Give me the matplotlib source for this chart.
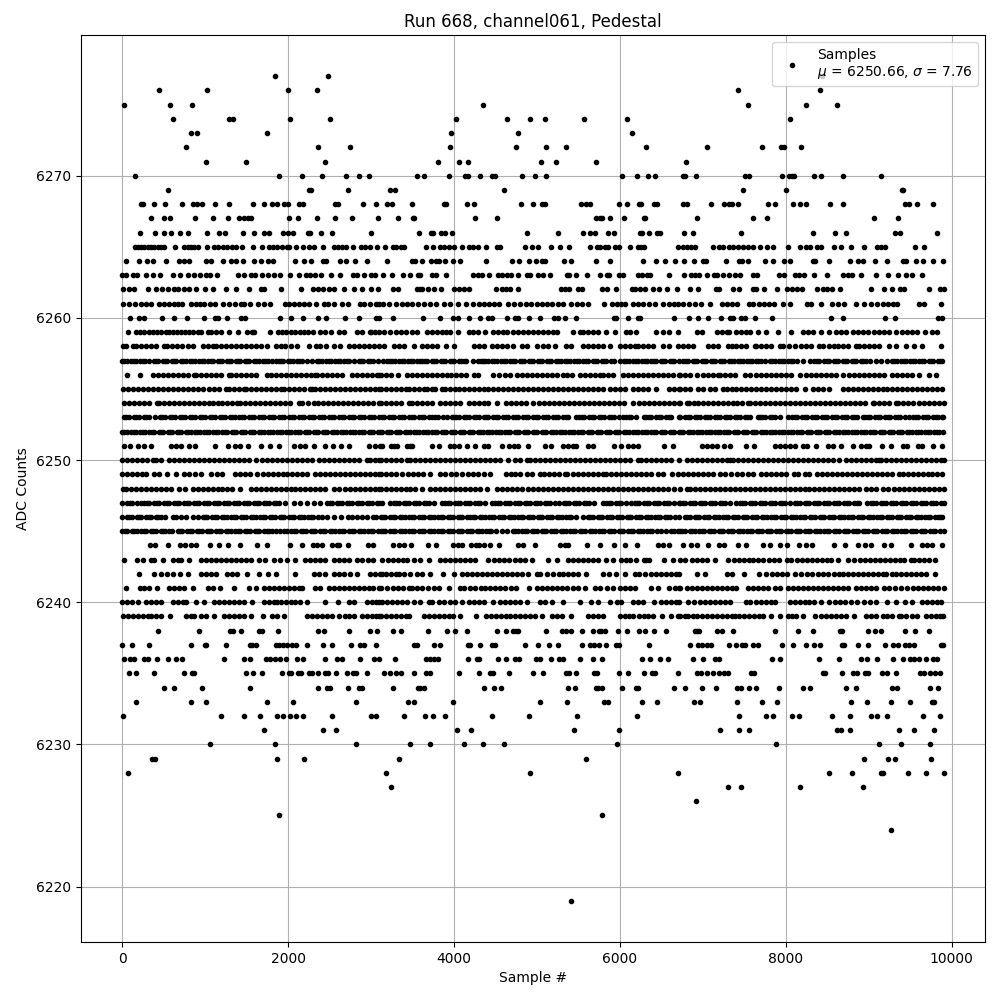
import matplotlib
matplotlib.use("Agg")
import matplotlib.pyplot as plt

# Sample numbers, one list per ADC level.
lvl_6219 = [5406]
lvl_6224 = [9267]
lvl_6225 = [1893, 5790]
lvl_6226 = [6921]
lvl_6227 = [3240, 7306, 7463, 8173, 8931]
lvl_6228 = [76, 3180, 4912, 6705, 8521, 8798, 9147, 9171, 9472, 9689, 9905]
lvl_6229 = [365, 401, 1869, 2194, 3337, 5586, 8943, 9231, 9315, 9748]
lvl_6230 = [1063, 1845, 2819, 3469, 3709, 4118, 4347, 4600, 5959, 7884, 9123, 9388, 9736]
lvl_6231 = [1712, 2422, 2579, 4034, 4203, 5442, 5983, 7210, 7439, 7559, 8618, 8666, 8774, 9364, 9544, 9785]
lvl_6232 = [16, 1195, 1472, 1665, 1869, 1941, 2025, 2097, 2182, 2531, 3000, 3060, 3397, 3649, 3746, 3890, 4455, 4900, 5478, 6200, 7439, 7763, 7848, 8076, 8161, 8558, 8774, 9027, 9099, 9219, 9653, 9857]
lvl_6233 = [173, 834, 1015, 1749, 2061, 2819, 3445, 3517, 3986, 5033, 5358, 5803, 5851, 6272, 6452, 6897, 6970, 7415, 7715, 7896, 8786, 8978, 9267, 9496, 9761, 9785]
lvl_6234 = [510, 630, 967, 1544, 2362, 2470, 2506, 2723, 2855, 2891, 3264, 3565, 3589, 3637, 4359, 4479, 4563, 5370, 5454, 5706, 5730, 5790, 6031, 6188, 6212, 6657, 6789, 6994, 7162, 7415, 7463, 7559, 7643, 7920, 8209, 8293, 8726, 8846, 9279, 9340, 9736, 9833]
lvl_6235 = [88, 173, 389, 750, 846, 870, 1496, 1580, 1688, 1929, 2013, 2037, 2122, 2158, 2254, 2290, 2362, 2446, 2483, 2579, 2711, 2783, 2819, 2951, 3156, 3228, 3300, 3361, 3517, 3661, 3709, 4058, 4299, 4431, 4467, 4660, 4949, 5069, 5346, 5382, 5466, 5682, 5718, 5995, 6103, 6296, 6392, 6428, 6705, 6933, 6982, 7054, 7126, 7198, 7258, 7306, 7583, 7619, 8449, 8473, 8678, 8810, 8858, 8954, 8991, 9159, 9219, 9327, 9616, 9664, 9736, 9797, 9857]
lvl_6236 = [28, 100, 149, 269, 317, 425, 558, 654, 726, 1231, 1472, 1544, 1737, 1785, 1845, 1905, 1977, 2110, 2182, 2446, 2591, 2651, 2868, 3036, 3096, 3288, 3661, 3709, 3758, 3806, 4167, 4275, 4299, 4527, 4624, 4732, 4780, 4985, 5033, 5165, 5261, 5310, 5514, 5670, 5790, 6272, 6368, 6488, 6585, 6885, 7006, 7150, 7198, 7836, 7932, 8401, 8642, 8906, 8978, 9099, 9292, 9412, 9496, 9544, 9604, 9689, 9773, 9821]
lvl_6237 = [4, 125, 329, 834, 1003, 1015, 1255, 1544, 1568, 1616, 1857, 1893, 1941, 1989, 2049, 2097, 2230, 2422, 2531, 2759, 2867, 2915, 3060, 3517, 3553, 3758, 3830, 4167, 4191, 4311, 4455, 4491, 4852, 5009, 5141, 5249, 5538, 5634, 5682, 5742, 5827, 5947, 5995, 6356, 6849, 6945, 6993, 7054, 7102, 7318, 7403, 7475, 7511, 7607, 7667, 7956, 8088, 8245, 8341, 8413, 8678, 8702, 8870, 8991, 9195, 9292, 9352, 9436, 9484, 9544, 9869, 9893]
lvl_6238 = [437, 931, 1303, 1340, 1436, 1652, 1688, 1881, 2362, 2434, 2735, 2988, 3072, 3264, 3361, 3685, 3914, 4010, 4155, 4515, 4624, 4708, 4744, 4768, 5105, 5298, 5346, 5406, 5538, 5670, 5742, 5778, 5815, 5971, 6091, 6235, 6307, 6416, 6560, 6909, 6933, 6958, 7174, 7234, 7367, 7872, 8148, 8329, 8654, 8678, 8991, 9075, 9147, 9436, 9556, 9725]
lvl_6239 = [10, 70, 130, 190, 250, 310, 347, 410, 470, 580, 770, 830, 870, 950, 1010, 1110, 1230, 1290, 1350, 1410, 1470, 1550, 1700, 1810, 1870, 1950, 2230, 2290, 2350, 2410, 2470, 2530, 2610, 2690, 2740, 2790, 2890, 2950, 3010, 3060, 3100, 3116, 3180, 3240, 3300, 3360, 3420, 3456, 3636, 3700, 3760, 3820, 3880, 3940, 3988, 4076, 4264, 4388, 4450, 4510, 4570, 4630, 4676, 4736, 4800, 4860, 4920, 4980, 5056, 5176, 5240, 5296, 5416, 5616, 5680, 5740, 5796, 5996, 6060, 6110, 6156, 6236, 6290, 6336, 6404, 6508, 6616, 6696, 6725, 6785, 6825, 6880, 6925, 6985, 7045, 7105, 7165, 7225, 7285, 7345, 7385, 7437, 7500, 7560, 7620, 7680, 7725, 7825, 7933, 8025, 8080, 8125, 8205, 8357, 8420, 8480, 8540, 8600, 8660, 8725, 8825, 8965, 9025, 9085, 9165, 9225, 9285, 9365, 9385, 9450, 9520, 9585, 9685, 9745, 9805, 9860, 9900]
lvl_6240 = [0, 60, 120, 195, 290, 350, 410, 470, 610, 670, 730, 770, 890, 990, 1110, 1170, 1230, 1290, 1350, 1410, 1470, 1570, 1710, 1770, 1830, 1870, 1910, 1970, 2030, 2090, 2150, 2230, 2450, 2600, 2730, 2790, 2950, 3010, 3060, 3100, 3136, 3196, 3256, 3316, 3376, 3436, 3516, 3596, 3696, 3736, 3816, 3880, 3956, 4016, 4096, 4176, 4240, 4300, 4356, 4476, 4556, 4620, 4680, 4740, 4800, 4876, 5036, 5096, 5176, 5316, 5516, 5656, 5736, 5876, 5964, 6016, 6156, 6216, 6276, 6416, 6496, 6560, 6620, 6680, 6716, 6825, 6890, 6965, 7025, 7085, 7145, 7205, 7265, 7325, 7525, 7565, 7637, 7700, 7760, 7820, 7865, 8045, 8105, 8165, 8225, 8285, 8345, 8425, 8525, 8590, 8650, 8710, 8785, 8857, 8945, 9010, 9085, 9225, 9325, 9437, 9525, 9637, 9700, 9760, 9820, 9865]
lvl_6241 = [48, 210, 270, 330, 425, 570, 630, 690, 750, 860, 1030, 1100, 1180, 1350, 1530, 1610, 1710, 1770, 1830, 1890, 1950, 2010, 2070, 2130, 2170, 2330, 2390, 2490, 2550, 2610, 2670, 2730, 2790, 2850, 2910, 2970, 3030, 3100, 3116, 3196, 3260, 3320, 3380, 3456, 3496, 3560, 3620, 3690, 3756, 3816, 3936, 4076, 4116, 4196, 4256, 4320, 4380, 4436, 4496, 4560, 4620, 4690, 4748, 4908, 4996, 5060, 5120, 5180, 5240, 5300, 5360, 5430, 5496, 5576, 5696, 5760, 5840, 5916, 5996, 6060, 6120, 6176, 6376, 6456, 6596, 6660, 6716, 6725, 6805, 6865, 6930, 6990, 7050, 7110, 7170, 7230, 7290, 7350, 7405, 7545, 7610, 7665, 7725, 7790, 7865, 7933, 8025, 8090, 8150, 8210, 8270, 8330, 8390, 8450, 8510, 8570, 8630, 8690, 8745, 8845, 8910, 8970, 9030, 9090, 9185, 9245, 9310, 9385, 9465, 9530, 9590, 9650, 9710, 9770, 9830, 9905]
lvl_6242 = [200, 390, 470, 540, 610, 700, 795, 950, 1010, 1075, 1130, 1270, 1330, 1390, 1510, 1650, 1760, 1860, 2090, 2310, 2370, 2450, 2550, 2610, 2680, 2750, 2830, 2990, 3050, 3110, 3136, 3176, 3236, 3296, 3336, 3396, 3476, 3556, 3616, 3716, 3864, 3996, 4096, 4160, 4220, 4280, 4340, 4400, 4460, 4520, 4580, 4640, 4700, 4756, 4816, 4896, 4996, 5036, 5116, 5196, 5260, 5320, 5380, 5440, 5500, 5596, 5796, 5870, 5948, 6056, 6176, 6236, 6300, 6376, 6436, 6500, 6560, 6620, 6680, 6716, 6933, 7025, 7285, 7345, 7497, 7677, 7765, 7830, 7890, 7950, 8010, 8105, 8185, 8250, 8320, 8385, 8445, 8510, 8580, 8645, 8685, 8750, 8810, 8870, 8930, 8990, 9050, 9110, 9165, 9205, 9285, 9325, 9390, 9450, 9510, 9570, 9630, 9685, 9797]
lvl_6243 = [20, 180, 250, 350, 385, 495, 610, 670, 710, 810, 950, 1010, 1070, 1130, 1190, 1250, 1310, 1367, 1430, 1490, 1550, 1650, 1720, 1830, 1900, 1990, 2080, 2210, 2270, 2330, 2390, 2450, 2550, 2610, 2670, 2730, 2830, 2890, 2960, 3030, 3136, 3200, 3260, 3320, 3380, 3428, 3516, 3596, 3696, 3828, 3890, 3950, 4010, 4070, 4130, 4190, 4256, 4416, 4480, 4540, 4600, 4660, 4736, 4796, 4860, 4936, 5136, 5236, 5376, 5440, 5500, 5560, 5620, 5680, 5736, 5836, 5916, 6016, 6070, 6116, 6188, 6296, 6316, 6356, 6536, 6636, 6725, 6790, 6865, 6933, 6995, 7055, 7145, 7305, 7370, 7430, 7490, 7550, 7610, 7670, 7730, 7797, 7857, 7917, 8013, 8065, 8130, 8190, 8250, 8310, 8370, 8430, 8490, 8550, 8625, 8745, 8825, 8890, 8950, 9010, 9070, 9130, 9190, 9250, 9310, 9370, 9430, 9505, 9545, 9610, 9670, 9725, 9797]
lvl_6244 = [340, 395, 555, 700, 760, 830, 890, 1063, 1170, 1275, 1420, 1630, 1745, 2025, 2170, 2300, 2350, 2415, 2530, 2590, 2610, 2725, 2968, 3030, 3264, 3336, 3396, 3480, 3684, 3780, 3988, 4044, 4096, 4204, 4260, 4296, 4356, 4440, 4548, 4776, 4836, 4980, 5276, 5336, 5376, 5604, 5760, 5928, 6060, 6204, 6456, 6516, 6588, 6765, 6861, 6933, 7065, 7197, 7257, 7425, 7525, 7725, 7805, 7933, 8013, 8157, 8245, 8313, 8577, 8709, 8865, 8957, 9021, 9177, 9273, 9513, 9645, 9705, 9765, 9885]
lvl_6245 = [0, 58, 116, 174, 232, 290, 348, 406, 464, 522, 570, 600, 670, 728, 786, 844, 902, 960, 1018, 1076, 1134, 1192, 1250, 1308, 1366, 1424, 1482, 1540, 1598, 1656, 1714, 1772, 1810, 1850, 1900, 1950, 1990, 2040, 2098, 2156, 2214, 2272, 2330, 2388, 2446, 2504, 2562, 2620, 2678, 2736, 2794, 2852, 2910, 2968, 3026, 3084, 3116, 3174, 3232, 3290, 3348, 3406, 3464, 3522, 3580, 3638, 3696, 3754, 3812, 3870, 3928, 3986, 4044, 4102, 4160, 4218, 4276, 4334, 4392, 4450, 4508, 4576, 4644, 4708, 4766, 4824, 4882, 4940, 4998, 5056, 5114, 5172, 5230, 5288, 5346, 5404, 5462, 5520, 5578, 5636, 5694, 5752, 5810, 5868, 5926, 5984, 6042, 6100, 6158, 6216, 6274, 6332, 6390, 6448, 6496, 6556, 6614, 6656, 6696, 6725, 6783, 6841, 6899, 6957, 7015, 7073, 7131, 7189, 7247, 7305, 7363, 7421, 7479, 7537, 7595, 7653, 7711, 7769, 7827, 7885, 7943, 8001, 8059, 8117, 8175, 8233, 8291, 8349, 8407, 8465, 8523, 8581, 8639, 8697, 8755, 8813, 8871, 8929, 8987, 9045, 9103, 9161, 9219, 9277, 9335, 9393, 9451, 9509, 9567, 9625, 9683, 9741, 9799, 9857, 9905, 30, 146, 262, 378, 494, 700, 815, 930, 1048, 1163, 1279, 1395, 1511, 1627, 1743, 2070, 2185, 2301, 2417, 2533, 2649, 2765, 2881, 2997, 3145, 3261, 3377, 3493, 3609, 3725, 3841, 3957, 4073, 4189, 4305, 4421, 4737, 4853, 4969, 5085, 5201, 5317, 5433, 5549, 5665, 5781, 5897, 6013, 6129, 6245, 6361, 6754, 6870, 6986, 7102, 7218, 7334, 7450, 7566, 7682, 7798, 7914, 8030, 8146, 8262, 8378, 8494, 8610, 8726, 8842, 8958, 9074, 9190, 9306, 9422, 9538, 9654, 9770]
lvl_6246 = [0, 58, 116, 174, 232, 290, 348, 406, 464, 522, 610, 650, 710, 770, 850, 915, 970, 1028, 1086, 1144, 1202, 1260, 1318, 1376, 1434, 1492, 1550, 1608, 1666, 1724, 1782, 1840, 1898, 1956, 2014, 2072, 2130, 2188, 2246, 2304, 2362, 2410, 2470, 2555, 2635, 2725, 2765, 2830, 2890, 2950, 3025, 3065, 3116, 3174, 3232, 3290, 3348, 3406, 3464, 3522, 3580, 3638, 3696, 3754, 3812, 3870, 3928, 3986, 4044, 4102, 4156, 4196, 4254, 4312, 4370, 4428, 4486, 4544, 4602, 4660, 4718, 4776, 4834, 4892, 4950, 5008, 5066, 5124, 5182, 5240, 5298, 5356, 5414, 5472, 5556, 5616, 5674, 5732, 5790, 5848, 5906, 5964, 6022, 6080, 6138, 6196, 6254, 6312, 6370, 6428, 6486, 6544, 6602, 6660, 6716, 6783, 6841, 6899, 6957, 7015, 7073, 7131, 7189, 7247, 7305, 7363, 7421, 7479, 7537, 7595, 7653, 7711, 7769, 7827, 7885, 7943, 8001, 8059, 8117, 8175, 8233, 8291, 8349, 8407, 8465, 8523, 8581, 8639, 8697, 8755, 8813, 8871, 8929, 8987, 9045, 9103, 9161, 9219, 9277, 9335, 9393, 9451, 9509, 9567, 9625, 9683, 9741, 9799, 9857, 9885, 87, 203, 319, 435, 1000, 1115, 1231, 1347, 1463, 1579, 1695, 1811, 1927, 2043, 2159, 2275, 3145, 3261, 3377, 3493, 3609, 3725, 3841, 3957, 4073, 4225, 4341, 4457, 4573, 4689, 4805, 4921, 5037, 5153, 5269, 5385, 5645, 5761, 5877, 5993, 6109, 6225, 6341, 6457, 6573, 6812, 6928, 7044, 7160, 7276, 7392, 7508, 7624, 7740, 7856, 7972, 8088, 8204, 8320, 8436, 8552, 8668, 8784, 8900, 9016, 9132, 9248, 9364, 9480, 9596, 9712, 9828]
lvl_6247 = [0, 60, 120, 180, 230, 270, 330, 390, 450, 510, 570, 630, 690, 750, 810, 870, 930, 990, 1050, 1110, 1170, 1230, 1290, 1350, 1410, 1470, 1530, 1590, 1650, 1710, 1770, 1830, 1890, 1960, 2070, 2150, 2230, 2310, 2390, 2470, 2530, 2590, 2650, 2710, 2770, 2830, 2890, 2950, 3010, 3070, 3100, 3136, 3228, 3276, 3336, 3396, 3456, 3516, 3576, 3636, 3696, 3756, 3856, 3896, 3956, 4016, 4076, 4136, 4196, 4256, 4316, 4376, 4456, 4496, 4556, 4616, 4676, 4736, 4796, 4856, 4916, 4976, 5036, 5096, 5156, 5216, 5264, 5324, 5384, 5444, 5504, 5564, 5624, 5684, 5796, 5836, 5896, 5956, 6016, 6076, 6136, 6176, 6236, 6296, 6356, 6416, 6476, 6536, 6596, 6656, 6716, 6725, 6785, 6845, 6905, 6965, 7025, 7085, 7145, 7205, 7265, 7325, 7405, 7445, 7505, 7565, 7625, 7685, 7745, 7805, 7865, 7925, 7985, 8053, 8105, 8165, 8225, 8285, 8345, 8405, 8465, 8525, 8585, 8645, 8705, 8765, 8825, 8885, 8973, 9025, 9085, 9145, 9205, 9265, 9325, 9385, 9445, 9505, 9565, 9625, 9685, 9745, 9805, 9865, 9905, 90, 300, 420, 540, 660, 780, 900, 1020, 1140, 1260, 1380, 1500, 1620, 1740, 1860, 2500, 2620, 2740, 2860, 2980, 3306, 3426, 3546, 3666, 3926, 4046, 4166, 4286, 4526, 4646, 4766, 4886, 5006, 5126, 5354, 5474, 5594, 5866, 5986, 6206, 6326, 6446, 6566, 6755, 6875, 6995, 7115, 7235, 7475, 7595, 7715, 7835, 7955, 8135, 8255, 8375, 8495, 8615, 8735, 8855, 9055, 9175, 9295, 9415, 9535, 9655, 9775]
lvl_6248 = [10, 50, 110, 170, 230, 290, 350, 410, 470, 530, 590, 690, 755, 850, 910, 970, 1030, 1090, 1150, 1210, 1270, 1330, 1420, 1550, 1610, 1670, 1730, 1790, 1850, 1910, 1970, 2030, 2090, 2150, 2210, 2270, 2330, 2390, 2450, 2550, 2610, 2690, 2750, 2810, 2870, 2930, 2990, 3050, 3100, 3116, 3176, 3236, 3296, 3356, 3416, 3476, 3536, 3616, 3716, 3776, 3836, 3896, 3956, 4016, 4076, 4136, 4196, 4256, 4316, 4396, 4516, 4576, 4636, 4696, 4756, 4816, 4896, 4956, 5016, 5076, 5136, 5196, 5256, 5316, 5376, 5436, 5496, 5556, 5616, 5676, 5736, 5796, 5856, 5916, 5976, 6036, 6096, 6156, 6216, 6276, 6336, 6396, 6456, 6516, 6576, 6656, 6725, 6805, 6845, 6905, 6965, 7025, 7085, 7145, 7205, 7265, 7325, 7385, 7445, 7505, 7565, 7625, 7685, 7745, 7805, 7865, 7925, 7985, 8045, 8105, 8165, 8225, 8285, 8345, 8405, 8465, 8525, 8585, 8645, 8705, 8765, 8825, 8885, 8965, 9025, 9085, 9165, 9237, 9305, 9365, 9425, 9485, 9545, 9605, 9665, 9725, 9785, 9845, 9905]
lvl_6249 = [0, 60, 120, 180, 240, 290, 390, 450, 540, 655, 750, 810, 880, 950, 1070, 1140, 1210, 1360, 1420, 1480, 1540, 1620, 1700, 1760, 1820, 1880, 1940, 1990, 2050, 2110, 2170, 2230, 2330, 2390, 2450, 2510, 2570, 2630, 2690, 2750, 2810, 2870, 2930, 2990, 3050, 3100, 3116, 3176, 3236, 3296, 3376, 3444, 3504, 3564, 3624, 3716, 3828, 3896, 3964, 4030, 4100, 4164, 4228, 4290, 4360, 4436, 4628, 4690, 4740, 4796, 4884, 4936, 5036, 5084, 5150, 5210, 5270, 5336, 5364, 5430, 5490, 5550, 5610, 5670, 5730, 5796, 5836, 5896, 5956, 6016, 6076, 6136, 6196, 6256, 6316, 6376, 6456, 6516, 6628, 6696, 6757, 6817, 6877, 6937, 6997, 7057, 7117, 7205, 7265, 7340, 7413, 7477, 7540, 7600, 7705, 7757, 7820, 7880, 7940, 8000, 8093, 8145, 8225, 8285, 8373, 8437, 8497, 8557, 8617, 8677, 8737, 8797, 8857, 8917, 8977, 9037, 9097, 9157, 9217, 9277, 9365, 9413, 9473, 9533, 9593, 9653, 9713, 9765, 9825, 9885]
lvl_6250 = [0, 60, 120, 180, 240, 300, 370, 410, 470, 570, 630, 690, 750, 810, 870, 930, 990, 1050, 1110, 1170, 1230, 1290, 1350, 1410, 1470, 1530, 1610, 1690, 1750, 1810, 1870, 1930, 1990, 2050, 2110, 2170, 2230, 2290, 2370, 2430, 2490, 2550, 2610, 2670, 2730, 2790, 2850, 2950, 2990, 3050, 3100, 3116, 3176, 3236, 3296, 3356, 3436, 3476, 3536, 3596, 3656, 3716, 3776, 3836, 3896, 3956, 4016, 4076, 4136, 4196, 4256, 4316, 4376, 4436, 4496, 4556, 4656, 4736, 4796, 4876, 4916, 4976, 5036, 5096, 5156, 5216, 5276, 5336, 5396, 5456, 5516, 5576, 5636, 5696, 5756, 5816, 5876, 5936, 5996, 6056, 6116, 6216, 6256, 6316, 6376, 6436, 6496, 6556, 6616, 6716, 6805, 6865, 6925, 6985, 7045, 7105, 7165, 7225, 7285, 7325, 7365, 7425, 7485, 7545, 7605, 7665, 7725, 7785, 7845, 7905, 7965, 8025, 8085, 8145, 8205, 8265, 8325, 8385, 8445, 8505, 8565, 8645, 8725, 8785, 8845, 8905, 8965, 9025, 9085, 9125, 9145, 9205, 9265, 9325, 9385, 9445, 9505, 9565, 9625, 9685, 9745, 9805, 9865, 9905]
lvl_6251 = [28, 96, 189, 270, 349, 590, 650, 710, 810, 880, 1123, 1280, 1364, 1424, 1520, 1676, 1785, 1893, 2077, 2140, 2200, 2310, 2446, 2543, 2639, 2735, 2975, 3050, 3110, 3128, 3236, 3276, 3316, 3436, 3468, 3496, 3732, 3816, 3956, 4004, 4056, 4156, 4248, 4356, 4416, 4584, 4668, 4728, 4776, 4896, 5100, 5172, 5316, 5376, 5436, 5476, 5616, 5676, 5928, 6016, 6096, 6156, 6216, 6536, 6644, 6985, 7045, 7105, 7165, 7257, 7325, 7521, 7613, 7865, 7925, 7985, 8045, 8105, 8205, 8253, 8361, 8505, 8565, 8665, 8805, 8905, 8960, 9005, 9153, 9273, 9413, 9465, 9597, 9645, 9773, 9885]
lvl_6252 = [0, 55, 110, 165, 220, 275, 330, 385, 440, 495, 550, 605, 660, 715, 770, 825, 880, 935, 990, 1045, 1100, 1155, 1210, 1265, 1320, 1375, 1430, 1485, 1540, 1595, 1650, 1705, 1760, 1815, 1870, 1925, 1980, 2035, 2090, 2145, 2200, 2255, 2310, 2365, 2420, 2475, 2530, 2585, 2640, 2695, 2750, 2805, 2860, 2915, 2970, 3025, 3080, 3135, 3190, 3245, 3300, 3355, 3410, 3465, 3520, 3575, 3630, 3685, 3740, 3795, 3850, 3905, 3960, 4015, 4070, 4125, 4180, 4235, 4290, 4345, 4400, 4455, 4510, 4565, 4620, 4675, 4730, 4785, 4840, 4895, 4950, 5005, 5060, 5115, 5170, 5225, 5280, 5335, 5390, 5445, 5500, 5555, 5610, 5665, 5720, 5775, 5830, 5885, 5940, 5995, 6050, 6105, 6160, 6215, 6270, 6325, 6380, 6435, 6490, 6545, 6600, 6655, 6710, 6765, 6820, 6875, 6930, 6985, 7040, 7095, 7150, 7205, 7260, 7315, 7370, 7425, 7480, 7535, 7590, 7645, 7700, 7755, 7810, 7865, 7920, 7975, 8030, 8085, 8140, 8195, 8250, 8305, 8360, 8415, 8470, 8525, 8580, 8635, 8690, 8745, 8800, 8855, 8910, 8965, 9020, 9075, 9130, 9185, 9240, 9295, 9350, 9405, 9460, 9515, 9570, 9625, 9680, 9735, 9790, 9845, 9900, 28, 138, 248, 358, 468, 578, 688, 798, 908, 1018, 1128, 1238, 1348, 1458, 1568, 1678, 1788, 1898, 2008, 2118, 2228, 2338, 2448, 2558, 2668, 2778, 2888, 2998, 3108, 3218, 3328, 3438, 3548, 3658, 3768, 3878, 3988, 4098, 4208, 4318, 4428, 4538, 4648, 4758, 4868, 4978, 5088, 5198, 5308, 5418, 5528, 5638, 5748, 5858, 5968, 6078, 6188, 6298, 6408, 6518, 6628, 6738, 6848, 6958, 7068, 7178, 7288, 7398, 7508, 7618, 7728, 7838, 7948, 8058, 8168, 8278, 8388, 8498, 8608, 8718, 8828, 8938, 9048, 9158, 9268, 9378, 9488, 9598, 9708, 9818]
lvl_6253 = [20, 80, 140, 200, 260, 320, 395, 455, 515, 575, 635, 695, 755, 815, 875, 935, 995, 1055, 1115, 1175, 1235, 1295, 1355, 1415, 1475, 1535, 1595, 1655, 1715, 1775, 1835, 1895, 1955, 2015, 2075, 2135, 2195, 2255, 2315, 2375, 2435, 2495, 2555, 2615, 2675, 2735, 2795, 2855, 2915, 2975, 3035, 3100, 3160, 3220, 3280, 3340, 3400, 3460, 3520, 3580, 3640, 3700, 3776, 3804, 3868, 3920, 3976, 3996, 4056, 4116, 4176, 4236, 4296, 4356, 4416, 4476, 4536, 4596, 4656, 4716, 4776, 4836, 4896, 4956, 5016, 5076, 5136, 5196, 5256, 5316, 5376, 5476, 5508, 5568, 5628, 5688, 5748, 5808, 5868, 5928, 5988, 6036, 6076, 6136, 6196, 6296, 6316, 6376, 6436, 6496, 6556, 6616, 6716, 6725, 6785, 6845, 6905, 6965, 7025, 7085, 7145, 7205, 7265, 7325, 7385, 7445, 7505, 7565, 7665, 7685, 7745, 7805, 7865, 7925, 8025, 8077, 8137, 8197, 8257, 8317, 8377, 8437, 8497, 8557, 8617, 8677, 8737, 8797, 8857, 8925, 8957, 9017, 9077, 9137, 9197, 9257, 9317, 9377, 9437, 9485, 9537, 9597, 9657, 9717, 9777, 9837, 9885, 9900, 50, 170, 290, 485, 605, 725, 845, 965, 1085, 1205, 1325, 1445, 1565, 1685, 1805, 1925, 2045, 2165, 2285, 2405, 2525, 2645, 2765, 2885, 3005, 3130, 3250, 3370, 3490, 3610, 3730, 4026, 4146, 4266, 4386, 4506, 4626, 4746, 4866, 4986, 5106, 5226, 5346, 5538, 5658, 5778, 5898, 6106, 6346, 6466, 6586, 6815, 6935, 7055, 7175, 7295, 7415, 7535, 7715, 7835, 8107, 8227, 8347, 8467, 8587, 8707, 8827, 8987, 9107, 9227, 9347, 9567, 9687, 9807]
lvl_6254 = [20, 80, 140, 200, 260, 320, 420, 450, 510, 570, 630, 690, 750, 810, 870, 930, 990, 1050, 1090, 1150, 1210, 1270, 1330, 1390, 1420, 1480, 1540, 1600, 1660, 1720, 1780, 1840, 1900, 1960, 2020, 2130, 2170, 2240, 2310, 2360, 2420, 2480, 2540, 2600, 2660, 2720, 2780, 2840, 2900, 2960, 3020, 3100, 3116, 3176, 3236, 3296, 3356, 3456, 3496, 3556, 3616, 3676, 3736, 3826, 3896, 3956, 4016, 4076, 4176, 4236, 4296, 4356, 4416, 4516, 4626, 4686, 4746, 4806, 4866, 4956, 5026, 5086, 5146, 5206, 5266, 5326, 5386, 5446, 5506, 5566, 5626, 5686, 5746, 5806, 5866, 5926, 5986, 6046, 6156, 6226, 6286, 6346, 6406, 6466, 6526, 6586, 6646, 6716, 6725, 6805, 6837, 6897, 6945, 6997, 7057, 7117, 7177, 7237, 7297, 7357, 7417, 7477, 7545, 7573, 7633, 7693, 7753, 7813, 7873, 7933, 7993, 8053, 8113, 8173, 8233, 8293, 8353, 8413, 8473, 8533, 8593, 8653, 8713, 8773, 8833, 8893, 8953, 9045, 9065, 9125, 9185, 9245, 9325, 9357, 9417, 9477, 9537, 9605, 9665, 9725, 9785, 9845, 9905]
lvl_6255 = [10, 70, 130, 190, 250, 310, 370, 430, 490, 550, 610, 670, 730, 790, 850, 910, 970, 1050, 1110, 1170, 1250, 1290, 1350, 1410, 1470, 1495, 1555, 1615, 1675, 1735, 1795, 1855, 1910, 1950, 2010, 2070, 2130, 2190, 2270, 2290, 2330, 2390, 2450, 2510, 2570, 2630, 2690, 2750, 2810, 2870, 2930, 2990, 3050, 3100, 3116, 3176, 3236, 3296, 3356, 3416, 3456, 3516, 3576, 3636, 3676, 3736, 3776, 3856, 3896, 3956, 4016, 4056, 4116, 4176, 4236, 4296, 4356, 4416, 4476, 4536, 4596, 4656, 4716, 4776, 4836, 4896, 4956, 5016, 5076, 5136, 5196, 5256, 5316, 5376, 5436, 5496, 5556, 5616, 5676, 5736, 5796, 5876, 5936, 5996, 6056, 6156, 6216, 6276, 6336, 6436, 6596, 6656, 6716, 6725, 6785, 6845, 6945, 7005, 7085, 7145, 7245, 7285, 7345, 7405, 7465, 7525, 7585, 7645, 7705, 7765, 7825, 7885, 7945, 8005, 8065, 8125, 8225, 8325, 8385, 8445, 8525, 8685, 8745, 8805, 8865, 8925, 8985, 9045, 9105, 9165, 9225, 9285, 9345, 9405, 9465, 9525, 9585, 9645, 9705, 9765, 9825, 9885]
lvl_6256 = [60, 210, 367, 430, 490, 550, 610, 670, 730, 790, 867, 887, 950, 1010, 1070, 1130, 1190, 1287, 1307, 1370, 1430, 1490, 1550, 1615, 1745, 1793, 1855, 1915, 1975, 2035, 2095, 2155, 2215, 2275, 2327, 2347, 2410, 2470, 2530, 2590, 2647, 2767, 2830, 2890, 2950, 3010, 3070, 3100, 3116, 3180, 3240, 3324, 3428, 3490, 3550, 3610, 3670, 3730, 3790, 3850, 3910, 3970, 4030, 4090, 4150, 4236, 4284, 4476, 4548, 4616, 4676, 4756, 4820, 4880, 4940, 5000, 5060, 5120, 5180, 5240, 5316, 5364, 5428, 5516, 5580, 5640, 5700, 5756, 5796, 5860, 5916, 6036, 6100, 6160, 6220, 6280, 6340, 6400, 6460, 6520, 6580, 6640, 6716, 6725, 6785, 6845, 6925, 7005, 7065, 7125, 7185, 7205, 7265, 7325, 7385, 7505, 7565, 7645, 7705, 7765, 7825, 7885, 7945, 8005, 8065, 8165, 8245, 8305, 8365, 8425, 8485, 8545, 8605, 8685, 8765, 8825, 8885, 8945, 9005, 9065, 9125, 9185, 9285, 9345, 9405, 9465, 9525, 9605, 9725, 9805]
lvl_6257 = [0, 55, 110, 165, 220, 275, 330, 380, 435, 490, 545, 600, 655, 710, 765, 820, 875, 930, 985, 1040, 1095, 1150, 1205, 1260, 1315, 1370, 1425, 1480, 1535, 1590, 1645, 1700, 1755, 1810, 1850, 1890, 1945, 2000, 2055, 2110, 2165, 2225, 2290, 2350, 2405, 2460, 2515, 2570, 2625, 2680, 2735, 2790, 2850, 2905, 2960, 3020, 3090, 3140, 3190, 3230, 3285, 3340, 3395, 3450, 3505, 3560, 3590, 3620, 3675, 3730, 3785, 3840, 3895, 3950, 4005, 4060, 4115, 4150, 4230, 4290, 4325, 4350, 4405, 4460, 4515, 4570, 4625, 4680, 4735, 4790, 4845, 4900, 4955, 5010, 5065, 5120, 5175, 5230, 5285, 5340, 5395, 5450, 5505, 5560, 5615, 5670, 5725, 5780, 5835, 5890, 5925, 6000, 6050, 6105, 6160, 6215, 6270, 6325, 6380, 6435, 6490, 6545, 6600, 6655, 6710, 6765, 6820, 6875, 6930, 6985, 7040, 7095, 7150, 7205, 7260, 7315, 7370, 7425, 7480, 7535, 7590, 7640, 7695, 7750, 7810, 7865, 7920, 7975, 8030, 8085, 8140, 8205, 8290, 8345, 8400, 8465, 8520, 8575, 8630, 8685, 8740, 8795, 8850, 8905, 8960, 9015, 9085, 9145, 9225, 9280, 9335, 9390, 9445, 9500, 9555, 9610, 9665, 9720, 9775, 9830, 9885, 28, 138, 248, 408, 518, 628, 738, 848, 958, 1068, 1178, 1288, 1398, 1508, 1618, 1728, 1918, 2028, 2138, 2378, 2488, 2598, 2708, 2878, 2988, 3258, 3368, 3478, 3648, 3758, 3868, 3978, 4088, 4378, 4488, 4598, 4708, 4818, 4928, 5038, 5148, 5258, 5368, 5478, 5588, 5698, 5808, 6078, 6188, 6298, 6408, 6518, 6628, 6793, 6903, 7013, 7123, 7233, 7343, 7453, 7563, 7668, 7838, 7948, 8058, 8373, 8493, 8603, 8713, 8823, 8933, 9308, 9418, 9528, 9638, 9748, 9858]
lvl_6258 = [5, 50, 130, 170, 230, 290, 350, 410, 500, 540, 600, 660, 720, 790, 860, 970, 1040, 1090, 1130, 1190, 1250, 1310, 1370, 1430, 1490, 1550, 1610, 1670, 1750, 1850, 1910, 1960, 2040, 2110, 2250, 2340, 2390, 2460, 2550, 2630, 2740, 2800, 2860, 2920, 2980, 3040, 3100, 3156, 3276, 3336, 3396, 3516, 3616, 3676, 3736, 3796, 3906, 4004, 4236, 4300, 4366, 4456, 4516, 4576, 4636, 4716, 4816, 4876, 4996, 5076, 5136, 5216, 5356, 5416, 5556, 5616, 5676, 5736, 5796, 5876, 6004, 6056, 6116, 6180, 6216, 6276, 6336, 6396, 6516, 6596, 6696, 6765, 6825, 6885, 7065, 7125, 7185, 7305, 7345, 7405, 7465, 7525, 7625, 7645, 7705, 7765, 7825, 7925, 7965, 8037, 8105, 8185, 8245, 8305, 8405, 8445, 8525, 8585, 8625, 8685, 8745, 8845, 8885, 8945, 9005, 9065, 9125, 9245, 9325, 9445, 9545, 9645, 9865]
lvl_6259 = [76, 170, 220, 270, 320, 370, 420, 470, 530, 560, 610, 660, 710, 760, 810, 860, 910, 950, 1030, 1075, 1130, 1190, 1290, 1400, 1510, 1560, 1590, 1785, 1875, 1930, 1980, 2030, 2080, 2140, 2190, 2240, 2300, 2390, 2446, 2515, 2615, 2675, 2835, 2890, 2990, 3000, 3050, 3100, 3156, 3228, 3296, 3356, 3416, 3496, 3556, 3676, 3736, 3790, 3850, 3900, 3956, 4044, 4176, 4230, 4290, 4376, 4476, 4530, 4590, 4636, 4716, 4776, 4836, 4890, 4950, 5010, 5070, 5130, 5190, 5236, 5436, 5516, 5556, 5616, 5676, 5736, 5836, 5936, 6076, 6116, 6190, 6436, 6516, 6596, 6696, 6933, 6993, 7165, 7225, 7285, 7317, 7405, 7465, 7525, 7565, 7665, 7765, 7905, 8061, 8205, 8265, 8325, 8425, 8525, 8605, 8665, 8725, 8805, 8865, 8925, 8985, 9065, 9125, 9185, 9245, 9325, 9405, 9465, 9525, 9585, 9677, 9765, 9825]
lvl_6260 = [100, 209, 269, 485, 630, 786, 990, 1123, 1159, 1267, 1436, 1484, 1905, 2037, 2182, 2362, 2459, 2687, 2855, 3060, 3096, 3264, 3625, 3830, 3986, 4046, 4179, 4311, 4407, 4455, 4636, 4732, 4768, 4900, 5033, 5201, 5249, 5334, 5466, 5923, 5947, 6103, 6212, 6248, 6657, 6837, 6945, 7066, 7222, 7331, 7367, 7463, 7511, 7631, 7836, 8546, 8690, 9195, 9315, 9833, 9881]
lvl_6261 = [16, 88, 157, 229, 289, 349, 449, 509, 570, 630, 670, 726, 834, 894, 942, 990, 1063, 1123, 1219, 1291, 1364, 1436, 1472, 1544, 1640, 1712, 1785, 1965, 2013, 2073, 2134, 2194, 2254, 2338, 2434, 2483, 2555, 2651, 2723, 2868, 2915, 2988, 3056, 3096, 3144, 3216, 3300, 3377, 3437, 3493, 3565, 3637, 3709, 3782, 3878, 3950, 4046, 4143, 4227, 4299, 4359, 4419, 4479, 4540, 4648, 4720, 4792, 4864, 4925, 4997, 5057, 5117, 5177, 5249, 5310, 5406, 5478, 5538, 5610, 5803, 5899, 5959, 6019, 6067, 6152, 6224, 6284, 6356, 6428, 6524, 6597, 6657, 6705, 6765, 6837, 6909, 6981, 7090, 7234, 7294, 7355, 7415, 7559, 7607, 7679, 7739, 7800, 7860, 7968, 8052, 8257, 8305, 8425, 8558, 8630, 8702, 8846, 8942, 9027, 9099, 9171, 9231, 9292, 9340, 9604, 9664, 9869]
lvl_6262 = [16, 88, 149, 317, 413, 485, 558, 630, 670, 750, 810, 894, 1003, 1099, 1255, 1376, 1532, 1676, 1712, 1917, 2158, 2302, 2362, 2422, 2494, 2555, 2675, 2795, 2891, 3000, 3084, 3264, 3325, 3553, 3589, 3613, 3685, 3758, 3842, 3998, 4058, 4118, 4179, 4503, 4576, 4624, 4672, 4768, 5286, 5334, 5382, 5490, 5538, 5790, 5839, 5947, 6140, 6176, 6248, 6308, 6404, 6476, 6573, 6693, 6849, 6945, 7162, 7198, 7367, 7439, 7607, 7643, 7740, 7896, 8016, 8076, 8136, 8197, 8377, 8449, 8497, 8558, 8654, 9027, 9183, 9279, 9376, 9424, 9725, 9857, 9905]
lvl_6263 = [4, 52, 137, 185, 293, 377, 461, 618, 702, 798, 870, 942, 1015, 1063, 1147, 1400, 1472, 1556, 1604, 1688, 1760, 1833, 1905, 2025, 2134, 2218, 2266, 2326, 2398, 2519, 2627, 2783, 2831, 2915, 3000, 3048, 3144, 3252, 3385, 3469, 3565, 3589, 3734, 3782, 3902, 4227, 4287, 4335, 4419, 4527, 4576, 4636, 4684, 4768, 4876, 4912, 5009, 5069, 5153, 5358, 5382, 5466, 5598, 5754, 5839, 5863, 5983, 6043, 6212, 6272, 6332, 6368, 6597, 6777, 6861, 6909, 6958, 7054, 7138, 7174, 7246, 7318, 7391, 7451, 7607, 7655, 7920, 7980, 8112, 8161, 8221, 8341, 8498, 8690, 8750, 8798, 8906, 9087, 9231, 9352, 9448, 9520, 9640]
lvl_6264 = [48, 209, 305, 377, 534, 690, 750, 810, 1015, 1075, 1219, 1316, 1376, 1460, 1592, 1676, 1760, 1821, 2085, 2194, 2278, 2422, 2459, 2627, 2699, 2807, 2951, 3192, 3493, 3529, 3613, 3721, 3782, 3818, 3890, 3986, 4070, 4383, 4696, 4780, 4900, 4985, 5057, 5093, 5322, 5406, 5706, 5875, 6284, 6440, 6549, 6669, 6777, 6897, 7006, 7042, 7282, 7439, 7475, 7547, 7752, 7848, 7980, 8052, 8329, 8353, 8521, 8774, 8870, 8930, 9075, 9219, 9412, 9448, 9568, 9652, 9773, 9893]
lvl_6265 = [150, 190, 230, 270, 310, 350, 390, 430, 470, 510, 638, 750, 790, 830, 870, 910, 1027, 1111, 1160, 1220, 1270, 1330, 1370, 1448, 1580, 1688, 1772, 1820, 1870, 1930, 1990, 2013, 2097, 2182, 2254, 2314, 2422, 2555, 2600, 2650, 2700, 2783, 2875, 2927, 2988, 3072, 3168, 3264, 3300, 3361, 3397, 3661, 3746, 3830, 3878, 3938, 3998, 4094, 4179, 4227, 4287, 4383, 4515, 4552, 4852, 4936, 5009, 5165, 5273, 5382, 5634, 5718, 5766, 5815, 5851, 5935, 5995, 6127, 6212, 6260, 6296, 6705, 6765, 6813, 6861, 6909, 7126, 7198, 7246, 7318, 7367, 7427, 7487, 7547, 7607, 7687, 7776, 7848, 8028, 8173, 8245, 8293, 8377, 8425, 8582, 8666, 8786, 8942, 9099, 9147, 9195, 9556, 9664]
lvl_6266 = [221, 401, 510, 594, 702, 798, 1027, 1171, 1243, 1460, 1592, 1712, 1772, 1941, 2001, 2061, 2242, 2266, 2398, 2531, 3000, 3577, 3721, 3746, 3842, 3890, 3974, 4876, 5249, 5550, 5634, 5694, 5851, 5923, 6248, 6272, 6356, 6452, 6488, 6777, 6885, 7463, 8329, 8594, 8726, 9315, 9376, 9821]
lvl_6267 = [353, 510, 582, 882, 1099, 1279, 1412, 1472, 1520, 1556, 2013, 2122, 2350, 2567, 2771, 3084, 3325, 3505, 3517, 4251, 4515, 5706, 5754, 5790, 5875, 6055, 6296, 6308, 6933, 7607, 7776, 9063, 9352]
lvl_6268 = [233, 257, 389, 522, 726, 858, 906, 967, 1123, 1291, 1580, 1712, 1809, 1869, 1953, 2001, 2134, 2182, 2567, 2603, 2903, 3060, 3192, 3252, 3493, 3878, 3902, 4155, 4239, 4804, 4949, 5057, 5093, 5526, 5586, 5634, 5995, 6091, 6236, 6260, 6416, 6452, 6765, 6813, 7102, 7258, 7318, 7355, 7427, 7788, 7872, 8088, 8173, 8245, 8534, 8690, 9436, 9484, 9580, 9773]
lvl_6269 = [558, 2254, 2278, 2723, 3228, 3288, 4600, 7487, 8004, 9400, 9412]
lvl_6270 = [160, 1893, 2170, 2410, 2699, 2855, 2976, 3553, 3637, 3938, 4131, 4167, 4311, 4455, 4491, 4816, 4973, 5105, 6031, 6200, 6344, 6428, 6765, 6789, 6921, 7511, 7559, 7956, 8040, 8076, 8100, 8341, 8425, 8690, 9147]
lvl_6271 = [1015, 1496, 2446, 3806, 4058, 4167, 5045, 5225, 5706, 6801]
lvl_6272 = [774, 2362, 2747, 3950, 4744, 5105, 5346, 6320, 7054, 7715, 7944, 7980, 8185]
lvl_6273 = [834, 906, 1749, 3962, 4768, 6140]
lvl_6274 = [618, 1291, 1340, 2025, 2506, 4022, 4636, 4912, 5093, 5562, 6091, 8052]
lvl_6275 = [28, 582, 846, 4347, 7547, 8245, 8618]
lvl_6276 = [449, 1027, 2001, 2350, 7427, 8413]
lvl_6277 = [1845, 2482, 8440]

level_values = [6219, 6224, 6225, 6226, 6227, 6228, 6229, 6230, 6231, 6232, 6233, 6234, 6235, 6236, 6237, 6238, 6239, 6240, 6241, 6242, 6243, 6244, 6245, 6246, 6247, 6248, 6249, 6250, 6251, 6252, 6253, 6254, 6255, 6256, 6257, 6258, 6259, 6260, 6261, 6262, 6263, 6264, 6265, 6266, 6267, 6268, 6269, 6270, 6271, 6272, 6273, 6274, 6275, 6276, 6277]
level_samples = [lvl_6219, lvl_6224, lvl_6225, lvl_6226, lvl_6227, lvl_6228, lvl_6229, lvl_6230, lvl_6231, lvl_6232, lvl_6233, lvl_6234, lvl_6235, lvl_6236, lvl_6237, lvl_6238, lvl_6239, lvl_6240, lvl_6241, lvl_6242, lvl_6243, lvl_6244, lvl_6245, lvl_6246, lvl_6247, lvl_6248, lvl_6249, lvl_6250, lvl_6251, lvl_6252, lvl_6253, lvl_6254, lvl_6255, lvl_6256, lvl_6257, lvl_6258, lvl_6259, lvl_6260, lvl_6261, lvl_6262, lvl_6263, lvl_6264, lvl_6265, lvl_6266, lvl_6267, lvl_6268, lvl_6269, lvl_6270, lvl_6271, lvl_6272, lvl_6273, lvl_6274, lvl_6275, lvl_6276, lvl_6277]

xs, ys = [], []
for level, samples in zip(level_values, level_samples):
    xs.extend(samples)
    ys.extend([level] * len(samples))

fig, ax = plt.subplots(figsize=(10, 10), dpi=100)
ax.plot(xs, ys, "k.", label="Samples\n$\\mu$ = 6250.66, $\\sigma$ = 7.76")
ax.set_title("Run 668, channel061, Pedestal")
ax.set_xlabel("Sample #")
ax.set_ylabel("ADC Counts")
ax.ticklabel_format(useOffset=False, style="plain", axis="y")
ax.grid(True)
ax.legend(loc="upper right")
fig.subplots_adjust(left=0.081, right=0.985, top=0.965, bottom=0.058)
fig.savefig("out.png", dpi=100)
